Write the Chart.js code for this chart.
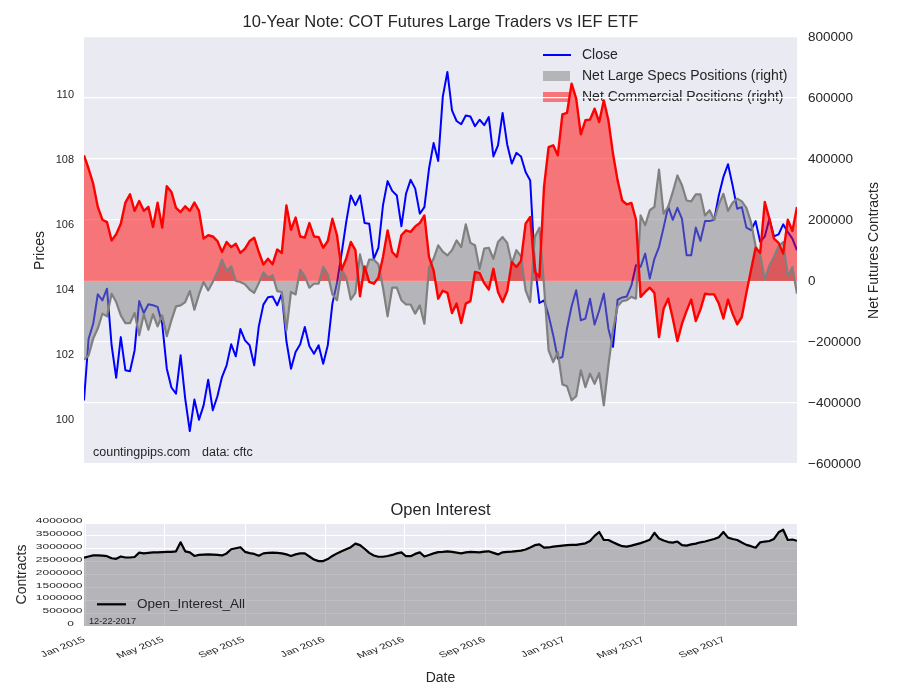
<!DOCTYPE html>
<html>
<head>
<meta charset="utf-8">
<script src="https://cdn.jsdelivr.net/npm/chart.js@4.4.0/dist/chart.umd.min.js"></script>
<style>
html,body{margin:0;padding:0;background:#ffffff;}
#top{position:absolute;left:0;top:0;}
#bot{position:absolute;left:0;top:480px;}
</style>
</head>
<body>
<canvas id="top" width="900" height="480"></canvas>
<canvas id="bot" width="900" height="220"></canvas>
<script>
// ---------------- DATA ----------------
const firstWeek = '2014-12-30';
const weekCount = 156;
const weekDates = [];
for (let i = 0; i < weekCount; i++) {
  const d = new Date(Date.UTC(2014, 11, 30) + i * 7 * 86400000);
  weekDates.push(d.toISOString().slice(0, 10));
}

const closePrices = [
100.6,102.5,102.96,103.87,103.68,104.04,102.3,101.3,102.55,101.53,
101.5,102.14,103.66,103.29,103.56,103.53,103.48,102.96,101.58,101.0,
100.81,101.99,100.66,99.66,100.63,100.01,100.45,101.24,100.3,100.73,
101.32,101.68,102.33,101.96,102.8,102.45,102.3,101.68,102.88,103.55,
103.78,103.8,103.53,103.89,102.43,101.58,102.09,102.33,102.86,102.27,
102.04,102.3,101.73,102.3,103.58,104.22,105.12,106.09,106.91,106.61,
106.91,106.06,106.04,104.96,105.3,106.61,107.35,107.05,106.91,105.96,
106.96,107.39,107.12,106.35,106.55,107.73,108.52,107.97,109.95,110.71,
109.53,109.2,109.1,109.37,109.34,109.04,109.24,109.07,109.32,108.11,
108.45,109.45,108.48,107.89,108.22,108.11,107.63,107.37,104.8,103.6,
103.68,103.22,102.61,101.89,101.94,102.81,103.5,103.99,103.07,103.12,
103.73,102.94,103.37,103.89,102.81,102.25,103.7,103.77,103.8,104.14,
104.76,104.71,105.12,104.35,104.96,105.32,105.92,106.57,106.16,106.53,
106.19,105.07,105.07,105.92,105.51,106.12,106.12,106.16,106.91,107.48,
107.87,107.22,106.5,106.55,105.92,105.84,106.12,105.48,105.65,106.19,
105.65,105.71,106.02,105.78,105.58,105.22];

const netSpecs = [
-258000,-244000,-189000,-156000,-107000,-116000,-42000,-69000,-113000,-138000,
-138000,-105000,-178000,-109000,-160000,-109000,-149000,-113000,-181000,-129000,
-83000,-80000,-69000,-33000,-94000,-44000,-3000,-31000,-3000,30000,
70000,33000,48000,0,-3000,-11000,-28000,-39000,-7000,28000,
11000,19000,-33000,-36000,-162000,-36000,-44000,37000,15000,-22000,
-9000,-9000,46000,22000,-44000,-63000,37000,11000,-61000,-39000,
87000,22000,70000,70000,55000,-22000,-116000,-22000,-22000,-63000,
-77000,-77000,-107000,-80000,-140000,44000,73000,117000,96000,84000,
101000,133000,111000,186000,125000,117000,40000,106000,109000,73000,
128000,144000,125000,57000,101000,81000,-31000,-69000,144000,175000,
-14000,-227000,-266000,-233000,-339000,-345000,-391000,-378000,-293000,-348000,
-304000,-337000,-302000,-408000,-277000,-162000,-83000,-66000,-63000,-52000,
-58000,215000,183000,232000,243000,365000,221000,243000,292000,346000,
314000,264000,261000,284000,284000,215000,232000,201000,251000,286000,
230000,256000,270000,261000,240000,193000,114000,87000,4000,51000,
79000,114000,128000,15000,46000,-42000];

const netCommercial = [
412000,368000,319000,243000,201000,193000,133000,153000,188000,257000,
284000,230000,262000,230000,243000,177000,257000,175000,311000,292000,
240000,226000,245000,230000,257000,230000,139000,150000,146000,131000,
95000,128000,111000,122000,92000,106000,131000,142000,95000,54000,
73000,55000,103000,92000,248000,168000,208000,146000,142000,190000,
146000,144000,109000,131000,204000,150000,37000,73000,128000,101000,
-50000,48000,-3000,-9000,11000,79000,166000,95000,79000,150000,
166000,161000,179000,190000,215000,79000,35000,-58000,-32000,-39000,
-105000,-74000,-138000,-74000,-66000,30000,26000,-7000,-28000,40000,
-36000,-69000,-33000,62000,46000,66000,188000,210000,30000,13000,
308000,439000,445000,412000,546000,551000,647000,598000,481000,527000,
529000,565000,521000,592000,527000,417000,330000,264000,251000,256000,
201000,-52000,-36000,-22000,-39000,-184000,-91000,-58000,-123000,-197000,
-140000,-98000,-61000,-131000,-94000,-42000,-44000,-44000,-74000,-123000,
-61000,-107000,-142000,-118000,-39000,35000,109000,92000,259000,204000,
139000,125000,90000,201000,164000,243000];

const openInterest = [
2650000,2700000,2740000,2740000,2730000,2710000,2630000,2610000,2700000,2660000,
2660000,2680000,2850000,2820000,2840000,2860000,2860000,2870000,2880000,2880000,
2900000,3250000,2900000,2860000,2720000,2760000,2770000,2780000,2770000,2760000,
2740000,2820000,2980000,3020000,3060000,2880000,2830000,2800000,2730000,2820000,
2840000,2850000,2840000,2820000,2780000,2720000,2780000,2820000,2820000,2700000,
2580000,2520000,2520000,2600000,2720000,2820000,2900000,2980000,3060000,3200000,
3140000,3000000,2840000,2740000,2690000,2690000,2720000,2760000,2820000,2860000,
2710000,2710000,2800000,2860000,2700000,2760000,2820000,2870000,2880000,2900000,
2880000,2850000,2820000,2860000,2880000,2870000,2860000,2890000,2900000,2840000,
2780000,2860000,2880000,2890000,2910000,2930000,2970000,3050000,3140000,3170000,
3040000,3050000,3080000,3100000,3120000,3140000,3150000,3150000,3180000,3210000,
3300000,3500000,3650000,3340000,3340000,3250000,3170000,3100000,3080000,3120000,
3170000,3220000,3280000,3350000,3620000,3400000,3320000,3260000,3240000,3280000,
3140000,3120000,3170000,3200000,3250000,3280000,3330000,3380000,3450000,3650000,
3430000,3380000,3340000,3240000,3150000,3100000,3040000,3250000,3280000,3300000,
3380000,3640000,3740000,3340000,3360000,3310000];

const priceTicks = [100, 102, 104, 106, 108, 110];
const contractTicks = [-600000, -400000, -200000, 0, 200000, 400000, 600000, 800000];
const oiTicks = [0, 500000, 1000000, 1500000, 2000000, 2500000, 3000000, 3500000, 4000000];
const monthTickDates = ['2015-01-01','2015-05-01','2015-09-01','2016-01-01','2016-05-01','2016-09-01','2017-01-01','2017-05-01','2017-09-01'];
const monthTickLabels = ['Jan 2015','May 2015','Sep 2015','Jan 2016','May 2016','Sep 2016','Jan 2017','May 2017','Sep 2017'];

// ---------------- HELPERS ----------------
const FONT = '"Liberation Sans", Arial, "DejaVu Sans", sans-serif';
const TXT = '#262626';
const BG = '#EAEAF2';
const t0 = Date.parse(firstWeek + 'T00:00:00Z');
const dayOf = s => (Date.parse(s + 'T00:00:00Z') - t0) / 86400000;
const xDays = weekDates.map(dayOf);
const xMax = xDays[xDays.length - 1];
const pts = arr => arr.map((v, i) => ({x: xDays[i], y: v}));
const monthTickDays = monthTickDates.map(dayOf);
const fmtInt = v => (v < 0 ? '\u2212' : '') + Math.abs(Math.round(v)).toString();

function bgPlugin(extra) {
  return {
    id: 'bg' + Math.random().toString(36).slice(2),
    beforeDraw(chart) {
      const {ctx, chartArea: a} = chart;
      ctx.save();
      ctx.fillStyle = '#ffffff';
      ctx.fillRect(0, 0, chart.width, chart.height);
      ctx.fillStyle = BG;
      ctx.fillRect(a.left, a.top, a.right - a.left, a.bottom - a.top);
      ctx.restore();
      if (extra) extra(chart);
    }
  };
}
function text(ctx, s, x, y, size, align, rot) {
  ctx.save();
  ctx.font = size + 'px ' + FONT;
  ctx.fillStyle = TXT;
  ctx.textAlign = align || 'left';
  ctx.textBaseline = 'middle';
  ctx.translate(x, y);
  if (rot) ctx.rotate(rot);
  ctx.fillText(s, 0, 0);
  ctx.restore();
}

// ---------------- TOP CHART ----------------
function drawTopLegend(chart) {
  const ctx = chart.ctx;
  ctx.save();
  ctx.strokeStyle = '#0000ff';
  ctx.lineWidth = 2;
  ctx.beginPath(); ctx.moveTo(543, 55); ctx.lineTo(571, 55); ctx.stroke();
  ctx.fillStyle = 'rgba(128,128,128,0.5)';
  ctx.fillRect(543, 71, 27, 10);
  ctx.fillStyle = 'rgba(255,0,0,0.5)';
  ctx.fillRect(543, 92, 27, 10);
  ctx.restore();
  text(ctx, 'Close', 582, 55, 14);
  text(ctx, 'Net Large Specs Positions (right)', 582, 76, 14);
  text(ctx, 'Net Commercial Positions (right)', 582, 97, 14);
}
const topText = {
  id: 'topText',
  afterDraw(chart) {
    const ctx = chart.ctx, a = chart.chartArea;
    const cx = (a.left + a.right) / 2, cy = (a.top + a.bottom) / 2;
    text(ctx, '10-Year Note: COT Futures Large Traders vs IEF ETF', cx, 22, 16.5, 'center');
    text(ctx, 'Prices', 40, cy, 14, 'center', -Math.PI / 2);
    text(ctx, 'Net Futures Contracts', 874, cy, 14, 'center', -Math.PI / 2);
    text(ctx, 'countingpips.com', 93, 453, 12.5);
    text(ctx, 'data: cftc', 202, 453, 12.5);
  }
};

const lineBase = {pointRadius: 0, tension: 0, borderJoinStyle: 'round', fill: false};
new Chart(document.getElementById('top'), {
  type: 'line',
  data: {
    datasets: [
      Object.assign({}, lineBase, {label: 'comm line', data: pts(netCommercial), yAxisID: 'y2', borderColor: '#ff0000', borderWidth: 2.4}),
      Object.assign({}, lineBase, {label: 'specs line', data: pts(netSpecs), yAxisID: 'y2', borderColor: '#808080', borderWidth: 2.2}),
      Object.assign({}, lineBase, {label: 'Net Commercial Positions (right)', data: pts(netCommercial), yAxisID: 'y2', borderWidth: 0, borderColor: 'rgba(0,0,0,0)', backgroundColor: 'rgba(255,0,0,0.5)', fill: 'origin'}),
      Object.assign({}, lineBase, {label: 'Net Large Specs Positions (right)', data: pts(netSpecs), yAxisID: 'y2', borderWidth: 0, borderColor: 'rgba(0,0,0,0)', backgroundColor: 'rgba(128,128,128,0.5)', fill: 'origin'}),
      Object.assign({}, lineBase, {label: 'Close', data: pts(closePrices), yAxisID: 'y', borderColor: '#0000ff', borderWidth: 2})
    ]
  },
  options: {
    responsive: false,
    animation: false,
    events: [],
    layout: {padding: {top: 37, bottom: 16, left: 0, right: 0}},
    plugins: {legend: {display: false}, title: {display: false}, tooltip: {enabled: false}},
    scales: {
      x: {type: 'linear', display: false, min: 0, max: xMax},
      y: {
        position: 'left', min: 98.646, max: 111.785,
        grid: {display: false, drawTicks: false}, border: {display: false},
        ticks: {color: TXT, font: {size: 11, family: FONT}, padding: 10},
        afterBuildTicks: s => { s.ticks = priceTicks.map(v => ({value: v})); },
        afterFit: s => { s.width = 84; s.paddingTop = 0; s.paddingBottom = 0; }
      },
      y2: {
        position: 'right', min: -600000, max: 800000,
        grid: {color: '#ffffff', lineWidth: 1.2, drawTicks: false}, border: {display: false},
        ticks: {color: TXT, font: {size: 13.5, family: FONT}, padding: 11, callback: v => fmtInt(v)},
        afterBuildTicks: s => { s.ticks = contractTicks.map(v => ({value: v})); },
        afterFit: s => { s.width = 103; s.paddingTop = 0; s.paddingBottom = 0; }
      }
    }
  },
  plugins: [bgPlugin(drawTopLegend), topText]
});

// ---------------- BOTTOM CHART ----------------
const TICK_SX = 1.5;
const botText = {
  id: 'botText',
  afterDraw(chart) {
    const ctx = chart.ctx, a = chart.chartArea;
    const cx = (a.left + a.right) / 2, cy = (a.top + a.bottom) / 2;
    text(ctx, 'Open Interest', cx, 30, 16.5, 'center');
    text(ctx, 'Contracts', 22, cy, 14, 'center', -Math.PI / 2);
    text(ctx, 'Date', cx, 198, 14, 'center');
    // legend
    ctx.save();
    ctx.strokeStyle = '#000000'; ctx.lineWidth = 2.2;
    ctx.beginPath(); ctx.moveTo(97, 124.3); ctx.lineTo(126, 124.3); ctx.stroke();
    ctx.restore();
    text(ctx, 'Open_Interest_All', 137, 124.3, 13.5);
    text(ctx, '12-22-2017', 89, 141.7, 9.2);
    // y tick labels (small, horizontally stretched like the reference)
    const ys = chart.scales.y, xs = chart.scales.x;
    ctx.save();
    ctx.font = '8px ' + FONT; ctx.fillStyle = TXT;
    ctx.textAlign = 'right'; ctx.textBaseline = 'middle';
    oiTicks.forEach(v => {
      const py = ys.getPixelForValue(v) - 2;
      const rx = v === 0 ? 74 : 82.5;
      ctx.save(); ctx.translate(rx, py); ctx.scale(TICK_SX, 1);
      ctx.fillText(String(v), 0, 0); ctx.restore();
    });
    monthTickDays.forEach((d, i) => {
      const px = xs.getPixelForValue(d);
      ctx.save(); ctx.translate(px - 1, a.bottom + 13); ctx.scale(TICK_SX, 1); ctx.rotate(-Math.PI / 6);
      ctx.fillText(monthTickLabels[i], 0, 0); ctx.restore();
    });
    ctx.restore();
  }
};

new Chart(document.getElementById('bot'), {
  type: 'line',
  data: {
    datasets: [{
      label: 'Open_Interest_All', data: pts(openInterest),
      borderColor: '#000000', borderWidth: 2.2, pointRadius: 0, tension: 0, borderJoinStyle: 'round',
      backgroundColor: 'rgba(128,128,128,0.5)', fill: 'origin'
    }]
  },
  options: {
    responsive: false,
    animation: false,
    events: [],
    layout: {padding: {top: 43, bottom: 0, left: 0, right: 103}},
    plugins: {legend: {display: false}, title: {display: false}, tooltip: {enabled: false}},
    scales: {
      x: {
        type: 'linear', min: 0, max: xMax,
        grid: {color: '#ffffff', lineWidth: 1, drawTicks: false}, border: {display: false},
        ticks: {display: false},
        afterBuildTicks: s => { s.ticks = monthTickDays.map(v => ({value: v})); },
        afterFit: s => { s.height = 74; }
      },
      y: {
        min: 0, max: 4000000,
        grid: {color: '#ffffff', lineWidth: 1, drawTicks: false}, border: {display: false},
        ticks: {display: false},
        afterBuildTicks: s => { s.ticks = oiTicks.map(v => ({value: v})); },
        afterFit: s => { s.width = 84; s.paddingTop = 0; s.paddingBottom = 0; }
      }
    }
  },
  plugins: [bgPlugin(null), botText]
});
</script>
</body>
</html>
